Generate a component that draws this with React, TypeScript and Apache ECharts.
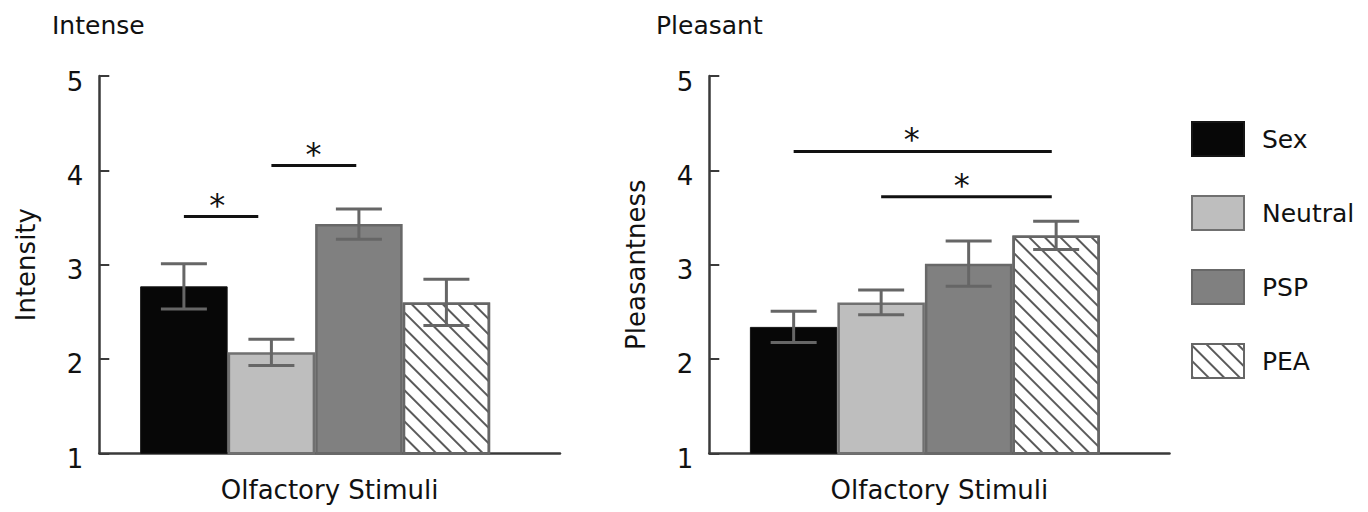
import React, { useEffect, useRef } from "react";
import * as echarts from "echarts";

const categories = ["Olfactory Stimuli"];
const groups = ["Sex", "Neutral", "PSP", "PEA"];
const intenseMeans = [2.77, 2.07, 3.43, 2.6];
const intenseErrors = [0.24, 0.14, 0.16, 0.245];
const pleasantMeans = [2.34, 2.6, 3.01, 3.31];
const pleasantErrors = [0.165, 0.13, 0.24, 0.15];
const yMin = 1;
const yMax = 5;
const yStep = 1;
// significance brackets: [fromBar, toBar, yValue, starPos]
const intenseSig = [
  [0, 0.85, 3.51, 0.38],
  [1.0, 1.97, 4.05, 1.48],
];
const pleasantSig = [
  [0, 2.95, 4.2, 1.35],
  [1.0, 2.95, 3.72, 1.92],
];

const FONT = "DejaVu Sans";
const BAR_W = 87.5;
const PAD_W = 29;
const barOffset = (i: number) => -(4 * BAR_W + PAD_W) / 2 + BAR_W * (i + 0.5);

const fills = ["#070707", "#bebebe", "#808080", "#ffffff"];
const borders = ["#151515", "#707070", "#686868", "#666666"];

export default function App() {
  const ref = useRef<HTMLDivElement>(null);
  useEffect(() => {
    if (!ref.current) return;
    const chart = echarts.init(ref.current, undefined, { renderer: "svg" });

    const renderErr = (params: any, api: any) => {
      const i = api.value(1);
      const m = api.value(2);
      const e = api.value(3);
      const cx = api.coord([0, m])[0] + barOffset(i);
      const yT = api.coord([0, m + e])[1];
      const yB = api.coord([0, m - e])[1];
      const st = { stroke: "#666666", lineWidth: 3 };
      return {
        type: "group",
        children: [
          { type: "line", shape: { x1: cx, y1: yT, x2: cx, y2: yB }, style: st },
          { type: "line", shape: { x1: cx - 23, y1: yT, x2: cx + 23, y2: yT }, style: st },
          { type: "line", shape: { x1: cx - 23, y1: yB, x2: cx + 23, y2: yB }, style: st },
        ],
      };
    };

    const renderSig = (params: any, api: any) => {
      const a = api.value(1);
      const b = api.value(2);
      const v = api.value(3);
      const s = api.value(4);
      const c = api.coord([0, v]);
      const x1 = c[0] + barOffset(a);
      const x2 = c[0] + barOffset(b);
      const xs = c[0] + barOffset(s);
      return {
        type: "group",
        children: [
          { type: "line", shape: { x1, y1: c[1], x2, y2: c[1] }, style: { stroke: "#111111", lineWidth: 3 } },
          {
            type: "text",
            style: {
              text: "*",
              x: xs,
              y: c[1] - 12,
              fill: "#111111",
              font: `32px "${FONT}"`,
              align: "center",
              verticalAlign: "middle",
            },
          },
        ],
      };
    };

    const panel = (idx: number, means: number[], errs: number[], sig: number[][]) => {
      const bars = groups.map((g, i) => ({
        name: g,
        type: "bar",
        xAxisIndex: idx,
        yAxisIndex: idx,
        barWidth: BAR_W,
        barGap: "0%",
        data: [means[i]],
        itemStyle: {
          color: fills[i],
          borderColor: borders[i],
          borderWidth: i === 0 ? 1 : 2.5,
          decal:
            i === 3
              ? {
                  symbol: "rect",
                  symbolSize: 1,
                  dashArrayX: [1, 0],
                  dashArrayY: [2, 8.4],
                  rotation: Math.PI / 4,
                  color: "#5a5a5a",
                  backgroundColor: "#ffffff",
                }
              : undefined,
        },
        z: 2,
      }));
      const pad = {
        name: "_pad" + idx,
        type: "bar",
        xAxisIndex: idx,
        yAxisIndex: idx,
        barWidth: PAD_W,
        barGap: "0%",
        data: ["-"],
        itemStyle: { color: "rgba(0,0,0,0)" },
      };
      const err = {
        type: "custom",
        xAxisIndex: idx,
        yAxisIndex: idx,
        renderItem: renderErr,
        encode: { x: 0, y: 2 },
        data: means.map((m, i) => [0, i, m, errs[i]]),
        z: 5,
        silent: true,
      };
      const sg = {
        type: "custom",
        xAxisIndex: idx,
        yAxisIndex: idx,
        renderItem: renderSig,
        encode: { x: 0, y: 3 },
        data: sig.map((s) => [0, ...s]),
        z: 5,
        silent: true,
      };
      return [...bars, pad, err, sg];
    };

    const axisLine = { show: true, lineStyle: { color: "#3a3a3a", width: 2.5 } };
    const xAxis = (i: number) => ({
      type: "category",
      gridIndex: i,
      data: categories,
      axisLine,
      axisTick: { show: false },
      axisLabel: { show: false },
      name: categories[0],
      nameLocation: "middle",
      nameGap: 24,
      nameTextStyle: { fontSize: 26, color: "#111", fontFamily: FONT },
    });
    const yAxis = (i: number, name: string) => ({
      type: "value",
      gridIndex: i,
      min: yMin,
      max: yMax,
      interval: yStep,
      axisLine,
      axisTick: { show: true, inside: true, length: 10, lineStyle: { color: "#3a3a3a", width: 2 } },
      splitLine: { show: false },
      axisLabel: {
        fontSize: 26,
        color: "#111",
        fontFamily: FONT,
        margin: 16,
        verticalAlign: "top",
        lineHeight: 11,
      },
      name,
      nameLocation: "middle",
      nameRotate: 90,
      nameGap: 60,
      nameTextStyle: { fontSize: 26, color: "#111", fontFamily: FONT },
    });

    chart.setOption({
      animation: false,
      backgroundColor: "#ffffff",
      title: [
        {
          text: "Intense",
          left: 52,
          top: 13,
          padding: 0,
          textStyle: { fontSize: 25, fontWeight: "normal", color: "#111", fontFamily: FONT },
        },
        {
          text: "Pleasant",
          left: 656,
          top: 13,
          padding: 0,
          textStyle: { fontSize: 25, fontWeight: "normal", color: "#111", fontFamily: FONT },
        },
      ],
      legend: {
        data: groups,
        orient: "vertical",
        left: 1191,
        top: 121,
        padding: 0,
        icon: "rect",
        itemWidth: 52,
        itemHeight: 34,
        itemGap: 38,
        selectedMode: false,
        textStyle: { fontSize: 25, color: "#111", fontFamily: FONT, padding: [0, 0, 0, 13] },
      },
      grid: [
        { left: 99.3, top: 76, width: 460.7, height: 377.3 },
        { left: 709.3, top: 76, width: 460.2, height: 377.3 },
      ],
      xAxis: [xAxis(0), xAxis(1)],
      yAxis: [yAxis(0, "Intensity"), yAxis(1, "Pleasantness")],
      series: [
        ...panel(0, intenseMeans, intenseErrors, intenseSig),
        ...panel(1, pleasantMeans, pleasantErrors, pleasantSig),
      ],
    });
    return () => chart.dispose();
  }, []);
  return (
    <div
      ref={ref}
      style={{ position: "fixed", left: 0, top: 0, width: 1368, height: 512, background: "#fff" }}
    />
  );
}
